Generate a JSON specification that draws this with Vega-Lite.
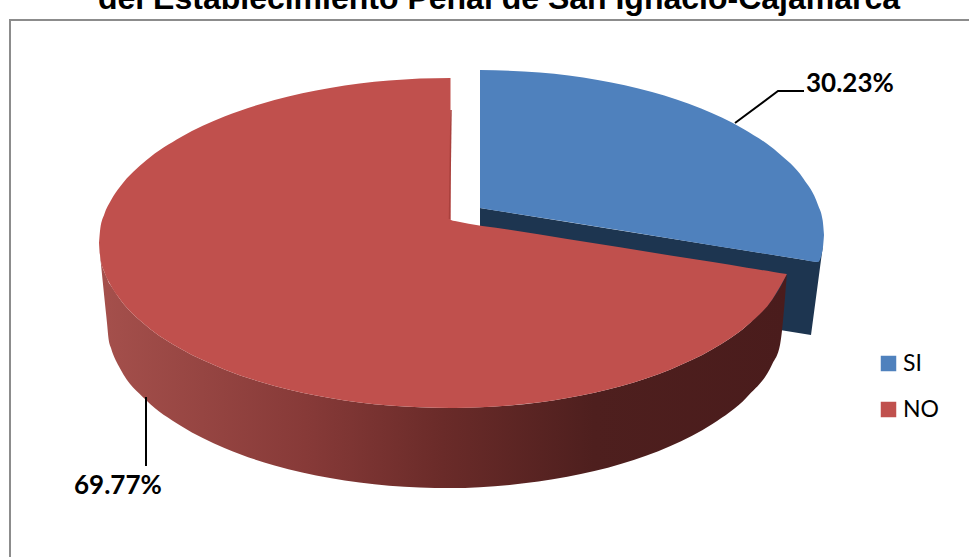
{
"$schema":"https://vega.github.io/schema/vega-lite/v6.json",
"width":969,"height":557,
"autosize":"none",
"padding":0,
"background":"white",
"config":{"view":{"stroke":null}},
"datasets":{
"blueWall":[{"part":"SI","x":480,"y":208,"y2":240},{"part":"SI","x":780,"y":256,"y2":330},{"part":"SI","x":811,"y":261,"y2":335},{"part":"SI","x":818,"y":262,"y2":282.5},{"part":"SI","x":823,"y":245,"y2":245}],
"blueTop":[{"part":"SI","x":480,"y":70,"y2":208},{"part":"SI","x":539.7,"y":72.5,"y2":217.6},{"part":"SI","x":597.7,"y":80,"y2":226.8},{"part":"SI","x":652,"y":92.1,"y2":235.5},{"part":"SI","x":701.1,"y":108.6,"y2":243.4},{"part":"SI","x":743.5,"y":128.9,"y2":250.2},{"part":"SI","x":777.9,"y":152.5,"y2":255.7},{"part":"SI","x":803.3,"y":178.6,"y2":259.7},{"part":"SI","x":818,"y":205,"y2":262},{"part":"SI","x":822.7,"y":220.6,"y2":249.4},{"part":"SI","x":824,"y":235,"y2":235}],
"redWall":[{"part":"NO","x":99,"y":243,"y2":245},{"part":"NO","x":101,"y":260.5,"y2":264.5},{"part":"NO","x":104.3,"y":271.7,"y2":297},{"part":"NO","x":107,"y":278,"y2":323},{"part":"NO","x":108.5,"y":282,"y2":338.5},{"part":"NO","x":111,"y":285.7,"y2":348},{"part":"NO","x":120.2,"y":299.4,"y2":368.7},{"part":"NO","x":146,"y":325.5,"y2":400},{"part":"NO","x":181.1,"y":349.1,"y2":426},{"part":"NO","x":224.4,"y":369.4,"y2":448},{"part":"NO","x":274.5,"y":385.9,"y2":465.5},{"part":"NO","x":330,"y":398,"y2":478},{"part":"NO","x":389.1,"y":405.5,"y2":485.7},{"part":"NO","x":450,"y":408,"y2":488},{"part":"NO","x":509.6,"y":405.5,"y2":484.9},{"part":"NO","x":567.3,"y":398,"y2":476.8},{"part":"NO","x":621.5,"y":385.9,"y2":463.7},{"part":"NO","x":670.5,"y":369.4,"y2":445.9},{"part":"NO","x":712.8,"y":349.1,"y2":423.7},{"part":"NO","x":747,"y":325.5,"y2":397},{"part":"NO","x":772.3,"y":299.4,"y2":364},{"part":"NO","x":780,"y":288,"y2":345},{"part":"NO","x":786.7,"y":274.5,"y2":276}],
"redTop":[{"part":"NO","x":99,"y":243,"y2":243},{"part":"NO","x":100.3,"y":228.6,"y2":257.4},{"part":"NO","x":104.3,"y":214.3,"y2":271.7},{"part":"NO","x":111,"y":200.3,"y2":285.7},{"part":"NO","x":120.2,"y":186.6,"y2":299.4},{"part":"NO","x":146,"y":160.5,"y2":325.5},{"part":"NO","x":181.1,"y":136.9,"y2":349.1},{"part":"NO","x":224.4,"y":116.6,"y2":369.4},{"part":"NO","x":274.5,"y":100.1,"y2":385.9},{"part":"NO","x":330,"y":88,"y2":398},{"part":"NO","x":389.1,"y":80.5,"y2":405.5},{"part":"NO","x":450.5,"y":78,"y2":408},{"part":"NO","x":451,"y":220,"y2":408},{"part":"NO","x":455,"y":221,"y2":408},{"part":"NO","x":509.6,"y":229.7,"y2":405.5},{"part":"NO","x":567.3,"y":238.9,"y2":398},{"part":"NO","x":621.5,"y":247.6,"y2":385.9},{"part":"NO","x":670.5,"y":255.4,"y2":369.4},{"part":"NO","x":712.8,"y":262.1,"y2":349.1},{"part":"NO","x":747,"y":267.7,"y2":325.5},{"part":"NO","x":772.3,"y":271.7,"y2":299.4},{"part":"NO","x":786.7,"y":274,"y2":274.5}],
"lines":[{"k":"frame","o":1,"x":10,"y":557},{"k":"frame","o":2,"x":10,"y":20},{"k":"frame","o":3,"x":969,"y":20}],
"edge":[{"k":"edge","o":1,"x":451,"y":110},{"k":"edge","o":2,"x":449.5,"y":219}],
"leaders":[{"k":"SI","o":1,"x":735,"y":123},{"k":"SI","o":2,"x":778,"y":91},{"k":"SI","o":3,"x":804,"y":91},{"k":"NO","o":1,"x":146,"y":397},{"k":"NO","o":2,"x":146,"y":466}],
"labels":[{"t":"30.23%","x":806,"y":92,"part":"SI"},{"t":"69.77%","x":74,"y":494,"part":"NO"}],
"title":[{"t":"del Establecimiento Penal de San Ignacio-Cajamarca","x":499,"y":9}]
},
"encoding":{
"x":{"field":"x","type":"quantitative","scale":{"domain":[0,969],"nice":false,"zero":false},"axis":null},
"y":{"field":"y","type":"quantitative","scale":{"domain":[0,557],"nice":false,"zero":false,"reverse":true},"axis":null}
},
"layer":[
{"data":{"name":"lines"},"mark":{"type":"line","color":"#8c8c8c","strokeWidth":2},"encoding":{"order":{"field":"o"},"detail":{"field":"k"}}},
{"data":{"name":"title"},"mark":{"type":"text","font":"Liberation Sans","fontWeight":"bold","fontSize":32,"color":"#000000","align":"center","baseline":"alphabetic"},"encoding":{"text":{"field":"t"}}},
{"data":{"name":"blueWall"},"mark":{"type":"area","orient":"vertical","color":"#1d3550"},"encoding":{"y2":{"field":"y2"}}},
{"data":{"name":"blueTop"},"mark":{"type":"area","orient":"vertical","interpolate":"monotone"},"encoding":{"y2":{"field":"y2"},"color":{"field":"part","type":"nominal","scale":{"domain":["SI","NO"],"range":["#4f81bd","#c0504d"]},"legend":{"title":null,"orient":"none","legendX":877,"legendY":352,"symbolType":"square","symbolSize":240,"symbolStrokeWidth":0,"labelFont":"Lato","labelFontSize":23,"labelColor":"#000000","labelOffset":3,"rowPadding":22,"labelLimit":80}}}},
{"data":{"name":"redWall"},"mark":{"type":"area","orient":"vertical","interpolate":"monotone","color":{"gradient":"linear","x1":0,"x2":1,"y1":0,"y2":0,"stops":[{"offset":0,"color":"#a5504c"},{"offset":0.3,"color":"#873a38"},{"offset":0.5,"color":"#6a2b29"},{"offset":0.72,"color":"#4e1f1e"},{"offset":1,"color":"#4a1c1c"}]}},"encoding":{"y2":{"field":"y2"}}},
{"data":{"name":"redTop"},"mark":{"type":"area","orient":"vertical","interpolate":"monotone"},"encoding":{"y2":{"field":"y2"},"color":{"field":"part","type":"nominal"}}},
{"data":{"name":"edge"},"mark":{"type":"line","color":"#a9403d","strokeWidth":1.5},"encoding":{"order":{"field":"o"},"detail":{"field":"k"}}},
{"data":{"name":"leaders"},"mark":{"type":"line","color":"#000000","strokeWidth":2},"encoding":{"order":{"field":"o"},"detail":{"field":"k"}}},
{"data":{"name":"labels"},"mark":{"type":"text","font":"Lato","fontWeight":"bold","fontSize":26,"color":"#000000","align":"left","baseline":"alphabetic"},"encoding":{"text":{"field":"t"}}}
]
}
